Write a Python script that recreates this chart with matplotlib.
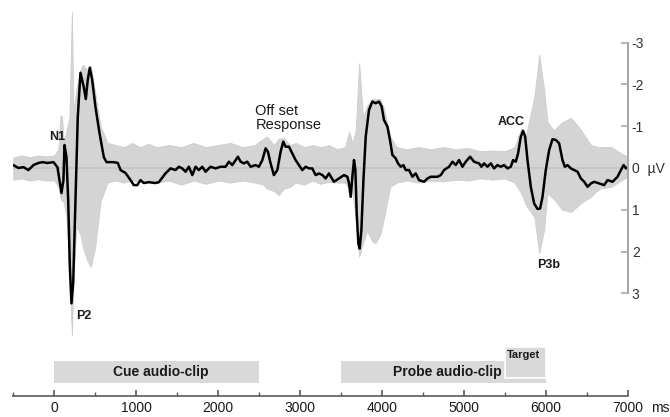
import matplotlib
matplotlib.use("Agg")
import matplotlib.pyplot as plt

plt.rcParams['font.family'] = ['Liberation Sans', 'DejaVu Sans']

# grand average (black), time in ms, amplitude in uV
avg_ms = [-500, -437, -376, -315, -254, -193, -144, -83, -10, 39, 63, 88, 112, 125, 149, 170, 190, 210, 231, 259,
          287, 320, 360, 385, 409, 434, 463, 503, 552, 605, 638, 727, 776, 809, 870, 931, 971, 1013, 1053, 1093,
          1154, 1236, 1277, 1322, 1357, 1419, 1480, 1521, 1562, 1603, 1643, 1685, 1725, 1765, 1807, 1847, 1908,
          1969, 2030, 2091, 2132, 2173, 2214, 2242, 2275, 2315, 2356, 2397, 2458, 2498, 2540, 2580, 2608, 2641,
          2681, 2723, 2763, 2796, 2824, 2865, 2906, 2946, 2987, 3028, 3069, 3109, 3150, 3191, 3231, 3273, 3313,
          3353, 3414, 3475, 3537, 3578, 3598, 3619, 3639, 3659, 3676, 3692, 3712, 3728, 3749, 3774, 3802, 3842,
          3883, 3924, 3964, 3997, 4025, 4067, 4098, 4128, 4168, 4196, 4229, 4262, 4290, 4331, 4372, 4412, 4453,
          4514, 4555, 4596, 4636, 4678, 4718, 4758, 4819, 4861, 4901, 4941, 4983, 5023, 5076, 5125, 5186, 5214,
          5247, 5288, 5329, 5369, 5410, 5451, 5491, 5533, 5573, 5601, 5634, 5662, 5695, 5723, 5748, 5777, 5817,
          5858, 5899, 5931, 5960, 6000, 6041, 6082, 6123, 6163, 6204, 6233, 6266, 6306, 6346, 6388, 6428, 6469,
          6510, 6551, 6591, 6652, 6713, 6754, 6815, 6876, 6917, 6950, 6978, 7000]
avg_uv = [-0.07, 0.0, -0.02, 0.05, -0.07, -0.12, -0.14, -0.12, -0.14, -0.02, 0.29, 0.6, 0.29, -0.55, -0.26, 0.77,
          2.37, 3.24, 2.76, 0.77, -1.22, -2.28, -1.94, -1.65, -2.11, -2.40, -2.11, -1.46, -0.84, -0.26, -0.14,
          -0.14, -0.12, 0.05, 0.12, 0.29, 0.41, 0.41, 0.29, 0.36, 0.34, 0.36, 0.34, 0.22, 0.13, 0.01, 0.05, -0.03,
          0.01, 0.09, -0.03, 0.17, -0.03, 0.05, -0.03, 0.09, -0.03, 0.01, -0.03, -0.03, -0.15, -0.07, -0.19, -0.27,
          -0.15, -0.11, -0.15, -0.03, -0.07, -0.03, -0.19, -0.47, -0.39, -0.11, 0.17, 0.05, -0.39, -0.63, -0.51,
          -0.51, -0.35, -0.19, -0.07, 0.05, -0.03, 0.01, 0.01, 0.17, 0.13, 0.17, 0.25, 0.13, 0.33, 0.25, 0.17,
          0.21, 0.37, 0.69, 0.21, -0.19, 0.05, 1.09, 1.81, 1.93, 1.49, 0.29, -0.75, -1.39, -1.59, -1.55, -1.59,
          -1.47, -1.15, -0.99, -0.67, -0.31, -0.23, -0.11, -0.03, -0.07, 0.05, 0.05, 0.21, 0.13, 0.29, 0.33, 0.25,
          0.21, 0.21, 0.21, 0.17, 0.05, -0.03, -0.15, -0.07, -0.19, -0.03, -0.15, -0.27, -0.15, -0.11, -0.03,
          -0.11, -0.03, -0.11, 0.01, -0.07, -0.03, -0.07, 0.01, -0.03, -0.19, -0.15, -0.35, -0.75, -0.89, -0.75,
          -0.19, 0.45, 0.85, 0.98, 0.97, 0.69, 0.05, -0.43, -0.69, -0.67, -0.59, -0.19, -0.03, -0.07, 0.01, 0.05,
          0.09, 0.25, 0.33, 0.45, 0.37, 0.33, 0.37, 0.41, 0.29, 0.33, 0.21, 0.05, -0.07, 0.01, -0.02]

# spread of the single electrodes (grey), most negative / most positive
spread_ms = [-500, -400, -300, -200, -100, 0, 50, 75, 95, 115, 150, 185, 215, 235, 270, 320, 350, 400, 445, 500,
             565, 650, 750, 850, 950, 1050, 1150, 1250, 1400, 1550, 1700, 1850, 2000, 2150, 2300, 2450, 2550,
             2600, 2680, 2740, 2800, 2880, 2950, 3050, 3150, 3250, 3350, 3450, 3550, 3600, 3640, 3680, 3722,
             3770, 3820, 3880, 3920, 3980, 4020, 4100, 4180, 4300, 4450, 4600, 4750, 4900, 5050, 5200, 5350,
             5500, 5620, 5700, 5760, 5860, 5920, 5980, 6020, 6100, 6200, 6310, 6430, 6550, 6650, 6800, 6920, 7000]
spread_neg = [-0.25, -0.3, -0.26, -0.3, -0.28, -0.3, -0.45, -1.25, -1.25, -0.6, -0.9, -1.2, -3.74, -1.3, -1.9,
              -2.35, -2.47, -2.35, -2.45, -1.8, -1.0, -0.6, -0.55, -0.5, -0.6, -0.5, -0.58, -0.5, -0.55, -0.5,
              -0.6, -0.5, -0.55, -0.6, -0.5, -0.55, -0.7, -0.75, -0.55, -0.7, -0.72, -0.55, -0.6, -0.5, -0.55,
              -0.5, -0.55, -0.45, -0.5, -0.87, -0.6, -0.9, -2.51, -1.2, -1.5, -1.65, -1.65, -1.65, -1.45, -0.75,
              -0.5, -0.45, -0.5, -0.45, -0.5, -0.45, -0.48, -0.4, -0.42, -0.4, -0.5, -0.95, -0.8, -1.7, -2.71,
              -1.87, -1.1, -0.9, -1.1, -1.2, -0.91, -0.55, -0.5, -0.5, -0.35, -0.27]
spread_pos = [0.28, 0.25, 0.3, 0.27, 0.3, 0.3, 0.45, 0.7, 0.8, 0.8, 1.2, 2.5, 4.0, 2.6, 1.4, 1.6, 1.9, 2.2, 2.37,
              1.9, 0.8, 0.35, 0.3, 0.35, 0.3, 0.33, 0.3, 0.35, 0.3, 0.4, 0.3, 0.38, 0.3, 0.35, 0.3, 0.35, 0.4,
              0.5, 0.55, 0.65, 0.5, 0.45, 0.35, 0.4, 0.3, 0.38, 0.33, 0.35, 0.35, 0.5, 0.6, 1.2, 2.12, 1.8, 1.5,
              1.75, 1.8, 1.6, 1.25, 0.45, 0.35, 0.3, 0.35, 0.3, 0.32, 0.28, 0.3, 0.25, 0.28, 0.25, 0.35, 0.6,
              0.9, 1.17, 2.04, 1.48, 0.6, 0.75, 1.0, 1.05, 0.84, 0.69, 0.5, 0.45, 0.3, 0.21]

uv_ticks = [-3, -2, -1, 0, 1, 2, 3]
uv_labels = ["-3", "-2", "-1", "0  \u00b5V", "1", "2", "3"]
ms_ticks = [0, 1000, 2000, 3000, 4000, 5000, 6000, 7000]

# stimulus timeline
clip_names = ["Cue audio-clip", "Probe audio-clip"]
clip_start = [0, 3500]
clip_end = [2500, 6000]
clip_text_ms = [1300, 4800]
target_start = 5500
target_end = 6000

fig = plt.figure(figsize=(6.7, 4.17), dpi=100)

# waveform panel
ax = fig.add_axes([13.3 / 670, 72 / 417, 614.4 / 670, 345 / 417])
ax.fill_between(spread_ms, spread_neg, spread_pos, color="#d4d4d4", lw=0.6, edgecolor="#cdcdcd")
ax.axhline(0, color="#c4c4c4", lw=1.2)
ax.plot(avg_ms, avg_uv, color="black", lw=1.8)
ax.set_xlim(-500, 7000)
ax.set_ylim(4.238, -4.022)
ax.patch.set_visible(False)
for s in ["left", "top", "bottom"]:
    ax.spines[s].set_visible(False)
ax.spines["right"].set_bounds(-3, 3)
ax.spines["right"].set_color("#a8a8a8")
ax.spines["right"].set_linewidth(1.5)
ax.set_xticks([])
ax.yaxis.tick_right()
ax.set_yticks(uv_ticks)
ax.set_yticklabels(uv_labels)
ax.tick_params(axis="y", direction="in", length=5, width=1.2, color="#a8a8a8",
               labelcolor="#333333", labelsize=10, pad=3)

lab = dict(fontsize=9, fontweight="bold", color="#1a1a1a")
ax.text(33, -0.73, "N1", ha="center", va="center", **lab)
ax.text(356, 3.55, "P2", ha="center", va="center", **lab)
ax.text(5581, -1.10, "ACC", ha="center", va="center", **lab)
ax.text(6033, 2.33, "P3b", ha="center", va="center", **lab)
ax.text(2454, -1.2, "Off set\nResponse", ha="left", va="center", fontsize=10.5,
        color="#1a1a1a", linespacing=1.05)

# timeline panel
axb = fig.add_axes([13.3 / 670, 21 / 417, 614.4 / 670, 56 / 417])
axb.patch.set_visible(False)
axb.set_xlim(-500, 7000)
axb.set_ylim(0, 56)
widths = [e - s for s, e in zip(clip_start, clip_end)]
axb.barh([24, 24], widths, left=clip_start, height=22.6, color="#d9d9d9")
axb.barh([33.8], [target_end - target_start], left=[target_start], height=31,
         color="#d9d9d9", edgecolor="white", lw=1.2)
for name, xm in zip(clip_names, clip_text_ms):
    axb.text(xm, 24, name, ha="center", va="center", fontsize=10, fontweight="bold", color="#1a1a1a")
axb.text((target_start + target_end) / 2 - 20, 41.5, "Target", ha="center", va="center",
         fontsize=8, fontweight="bold", color="#1a1a1a")

for s in ["left", "top", "right"]:
    axb.spines[s].set_visible(False)
axb.spines["bottom"].set_color("#5a5a5a")
axb.spines["bottom"].set_linewidth(1.2)
axb.set_yticks([])
axb.set_xticks(ms_ticks)
axb.set_xticks([m + 500 for m in [-1000] + ms_ticks[:-1]], minor=True)
axb.tick_params(axis="x", which="major", direction="in", length=4, width=1.2, color="#5a5a5a",
                labelsize=10, labelcolor="#1a1a1a", pad=3.5)
axb.tick_params(axis="x", which="minor", direction="in", length=3, width=1.0, color="#5a5a5a")
axb.annotate("ms", xy=(7000, 0), xycoords="data", xytext=(17, -3.5), textcoords="offset points",
             ha="left", va="top", fontsize=10, color="#1a1a1a")

fig.savefig("out.png", dpi=100)
